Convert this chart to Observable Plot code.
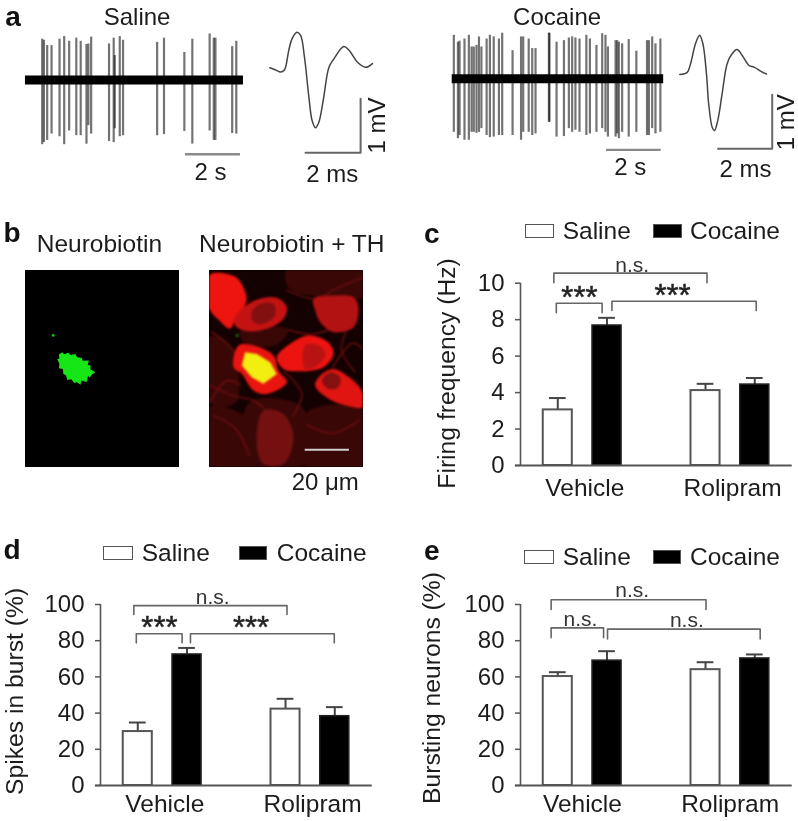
<!DOCTYPE html>
<html>
<head>
<meta charset="utf-8">
<script src="https://cdn.jsdelivr.net/npm/d3@7"></script>
<script src="https://cdn.jsdelivr.net/npm/@observablehq/plot@0.6"></script>
<style>
  html, body { margin: 0; padding: 0; background: #fff; }
  #page { position: relative; width: 798px; height: 821px; overflow: hidden; filter: blur(0.6px);
          font-family: "Liberation Sans", Arial, sans-serif; color: #1c1c1c; }
  .panel { position: absolute; }
  .panel svg { display: block; background: transparent; max-width: none; }
  .letter { position: absolute; font-weight: bold; font-size: 28px; line-height: 0.8; color: #111; transform: translate(-50%, -50%); }
  .lab { position: absolute; font-size: 24.5px; line-height: 1; transform: translateY(-50%); white-space: nowrap; }
  .sw { position: absolute; height: 12px; box-sizing: content-box; border: 1.5px solid #555; transform: translateY(-50%); }
</style>
</head>
<body>
<div id="page"></div>
<script>
// ---------- Panel a: spike traces (time in s, amplitude in mV)
const salineTimes = [0.61,0.67,0.79,0.95,1.24,1.41,1.59,1.85,2.01,2.22,2.29,2.39,3.04,3.21,3.25,3.43,3.55,4.79,5.04,5.78,6.07,6.70,6.85,6.91,7.52,7.67];
const salineTops = [0.77,0.75,0.65,0.65,0.77,0.82,0.73,0.79,0.73,0.67,0.68,0.81,0.68,0.79,0.46,0.82,0.75,0.71,0.79,0.52,0.77,0.87,0.79,0.79,0.63,0.73];
const salineBottoms = [-1.22,-1.18,-1.14,-1.02,-1.07,-1.22,-0.96,-1.05,-1.05,-1.21,-0.86,-1.02,-1.16,-1.18,-0.92,-1.07,-1.05,-1.05,-1.03,-0.97,-1.21,-0.96,-1.14,-1.14,-1.01,-1.02];
const cocaineTimes = [0.06,0.21,0.27,0.45,0.61,0.71,0.79,0.89,0.98,1.07,1.26,1.38,1.52,1.71,1.83,2.21,2.52,2.60,2.80,2.93,3.05,3.54,3.56,3.82,4.09,4.27,4.39,4.51,4.66,4.91,5.04,5.28,5.49,5.61,5.70,5.98,6.04,6.10,6.22,6.46,6.74,7.13,7.20,7.32,7.44,7.62];
const cocaineTops = [0.82,0.69,0.71,0.75,0.82,0.60,0.60,0.63,0.79,0.60,0.75,0.82,0.79,0.75,0.86,0.53,0.79,0.79,0.75,0.57,0.57,0.86,0.86,0.69,0.72,0.77,0.79,0.77,0.75,0.82,0.75,0.63,0.85,0.82,0.60,0.72,0.72,0.69,0.66,0.74,0.52,0.72,0.72,0.79,0.66,0.75];
const cocaineBottoms = [-1.01,-1.13,-1.07,-1.16,-1.16,-1.01,-1.01,-1.03,-1.01,-0.94,-1.07,-1.11,-1.10,-1.07,-1.07,-1.07,-1.16,-1.01,-1.01,-1.07,-1.04,-0.82,-0.82,-1.10,-1.09,-0.94,-1.01,-0.97,-1.01,-1.07,-1.04,-1.01,-0.94,-1.01,-1.10,-1.10,-1.04,-1.13,-1.01,-1.10,-1.01,-1.07,-1.07,-0.94,-1.04,-1.01];
// Spike waveforms (ms, mV)
const salineWaveMs = [0,0.21,0.39,0.53,0.69,0.81,0.99,1.12,1.26,1.42,1.54,1.66,1.78,1.94,2.15,2.33,2.69,2.88,3.18,3.48,3.73];
const salineWaveMv = [0,-0.04,-0.08,-0.04,0.33,0.55,0.67,0.61,0.20,-0.55,-1.0,-1.13,-1.03,-0.62,0.01,0.17,0.40,0.33,0.11,0.01,0.08];
const cocaineWaveMs = [0,0.27,0.39,0.57,0.72,0.84,0.97,1.05,1.18,1.26,1.38,1.54,1.72,1.90,2.08,2.27,2.52,2.70,2.95,3.15];
const cocaineWaveMv = [0,0.04,0.20,0.58,0.74,0.58,0.01,-0.55,-1.0,-1.06,-0.87,-0.36,0.20,0.39,0.47,0.36,0.17,0.14,0.06,0.01];

// ---------- Panel b: outlines of what the two confocal images show (positions in µm)
const greenBlob = [[14.4,40.3],[15.4,40],[15.2,38.2],[16.7,37.1],[17.6,38],[19.5,37.4],[20.4,38.4],[22.7,37.9],[23.4,39.4],[25.4,39.6],[26,41],[28.8,40.9],[28.3,42.8],[29.6,43.2],[29.5,45],[31.8,46.2],[30.2,47.2],[29.2,48.6],[28.4,47.9],[27.8,50.6],[25.4,50],[25,51.9],[23.2,50.7],[22.3,51.2],[20.8,49.4],[19,49.8],[18.4,47.6],[17.2,47],[17,44.8],[15.2,44.4],[15.4,42.2]];
const greenSpeck = [[12.6,29.5]];
const cellA = [[0,2],[10.9,2.4],[14.7,6.2],[16.9,12.9],[15.4,17],[12,21.4],[9.4,26.4],[4.8,23],[0,17.4]];
const cellB = [[10.9,22.7],[14.7,17.4],[21.5,13.3],[30.6,12.4],[35.2,16.7],[33.6,22],[26.1,26.5],[17.7,27.6],[12.4,25.8]];
const cellC = [[47.3,12.9],[56.4,11.4],[65.5,12.1],[67.7,16.7],[65.5,25.8],[56.4,28],[50.3,23.5],[48,18]];
const cellD = [[30.6,39.4],[36.7,33.3],[45,29.5],[54,32.6],[56.4,37.9],[51.8,43.9],[41.2,45.8],[33.6,44.7]];
const cellE = [[48,52.3],[51.1,47],[56.4,44.7],[62.4,47.7],[69.2,54.5],[70,62.1],[62.4,61.4],[54.1,58.3]];
const cellF = [[13.2,34.1],[20,34.1],[29.1,38.6],[31.4,45.5],[35.2,50.8],[26.1,56.1],[20,54.5],[14.7,47],[10.9,44]];
const cellG = [[24.5,63.6],[33.6,65.2],[38.2,75.8],[33.6,87.9],[24.5,87.9],[21.5,78.8]];
const nucleusB = [[19.2,18.9],[23,15.2],[29.1,15.2],[29.8,20.5],[24.5,24.2],[20,23.5]];
const nucleusD = [[43.5,34],[49.5,34],[52.6,37.9],[49.5,42.7],[43.5,44.7]];
const nucleusE = [[51.1,50],[54.8,46.2],[59.4,48.5],[58.6,53],[54.1,53.8]];
const yellowFill = [[16.2,37.1],[21.5,37.9],[27.6,41.7],[30.6,47],[24.5,51.5],[19.2,48.5],[14.7,43.2]];
const haze = [
  [[35,0],[70,0],[70,12],[50,12],[36,8]],
  [[18,60],[42,62],[46,85],[40,89.5],[18,89.5]],
  [[0,30],[10,35],[12,60],[0,60]],
  [[0,62],[18,68],[20,89.5],[0,89.5]],
  [[45,64],[70,64],[70,89.5],[44,89.5]],
  [[14,27],[36,27],[30,34],[16,33]]
];
const processes = [
  [[1,28],[8,33],[12,38]],
  [[0,52],[11,57],[20,59],[25,63]],
  [[56,44],[65,33],[70,36]],
  [[35,9],[49,13],[56,9],[70,3]],
  [[34,46],[42,56],[38,66]],
  [[2,66],[12,72],[18,84]],
  [[44,70],[56,74],[68,68]],
  [[0,60],[8,50],[14,52]],
  [[36,27],[46,29],[54,27]],
  [[62,28],[60,36],[66,46]]
];

// ---------- Panels c, d, e: bars
const groups = ["Vehicle", "Rolipram"];
const slots = [0, 1, 3, 4];
const treatments = ["Saline", "Cocaine", "Saline", "Cocaine"];
const firingValues = [3.05, 7.68, 4.11, 4.44];
const firingCaps = [3.7, 8.1, 4.48, 4.8];
const firingTicks = [0, 2, 4, 6, 8, 10];
const burstValues = [29.8, 72.4, 42.2, 38.3];
const burstCaps = [34.8, 76, 47.9, 43.3];
const neuronValues = [60.2, 69, 64, 70.2];
const neuronCaps = [62.6, 74.2, 68.1, 72.4];
const percentTicks = [0, 20, 40, 60, 80, 100];
const firingBrackets = [
  {from:-0.08, to:3.03, top:10.55, drop:10.02, mark:"n.s.", at:1.51, level:10.97},
  {from:-0.03, to:0.9, top:8.9, drop:8.38, mark:"***", at:0.44, level:9.41},
  {from:1.10, to:4.03, top:9.01, drop:8.5, mark:"***", at:2.33, level:9.54}
];
const burstBrackets = [
  {from:-0.08, to:3.03, top:99.4, drop:94.5, mark:"n.s.", at:1.52, level:104},
  {from:-0.03, to:0.9, top:83.8, drop:78.8, mark:"***", at:0.44, level:89},
  {from:1.07, to:3.99, top:83.8, drop:78.8, mark:"***", at:2.30, level:89}
];
const neuronBrackets = [
  {from:-0.135, to:3.01, top:102.6, drop:97.2, mark:"n.s.", at:1.51, level:108.1},
  {from:-0.135, to:0.93, top:87.1, drop:81.6, mark:"n.s.", at:0.46, level:92},
  {from:1.01, to:4.11, top:86.4, drop:81, mark:"n.s.", at:2.62, level:91.2}
];

// ---------- helpers
const page = document.getElementById("page");
const FONT = '"Liberation Sans", Arial, sans-serif';
const INK = "#1c1c1c", AXIS = "#555";

function place(node, left, top) {
  const d = document.createElement("div");
  d.className = "panel";
  d.style.left = left + "px"; d.style.top = top + "px";
  d.appendChild(node);
  page.appendChild(d);
  return d;
}
function base(o) {
  return Object.assign({marginLeft:0, marginRight:0, marginTop:0, marginBottom:0,
    style:{background:"transparent", fontFamily:FONT, overflow:"visible"}}, o);
}
function label(text, x, y, extra) {
  return Plot.text([text], Object.assign({x:()=>x, y:()=>y, text:d=>d, fontSize:24, fill:INK, fontFamily:FONT}, extra));
}

function tracePlot(left, width, times, tops, bottoms, xDomain, yDomain, end, title, bar, barY, barText, opacity) {
  const spikes = times.map((t,i)=>({t, top:tops[i], bottom:bottoms[i]}));
  place(Plot.plot(base({
    width, height:185,
    x:{domain:xDomain, range:[0,width], axis:null},
    y:{domain:yDomain, range:[0,185], axis:null},
    marks:[
      Plot.ruleX(spikes,{x:"t", y1:"bottom", y2:"top", stroke:"#000", strokeWidth:2.2, strokeOpacity:opacity}),
      Plot.ruleY([0],{x1:()=>0, x2:()=>end, stroke:"#000", strokeWidth:9}),
      Plot.ruleY([barY],{x1:()=>bar[0], x2:()=>bar[1], stroke:"#8a8a8a", strokeWidth:2.4}),
      label("2 s", barText[0], barText[1]),
      label(title[0], title[1], title[2])
    ]
  })), left, 0);
}
function wavePlot(left, width, ms, mv, xDomain, yDomain, sx, sy, tMs, tMv) {
  const wave = ms.map((m,i)=>[m, mv[i]]);
  place(Plot.plot(base({
    width, height:185,
    x:{domain:xDomain, range:[0,width], axis:null},
    y:{domain:yDomain, range:[0,185], axis:null},
    marks:[
      Plot.line(wave,{stroke:"#444", strokeWidth:1.5, curve:"catmull-rom"}),
      Plot.line([[sx[0],sy[0]],[sx[1],sy[0]],[sx[1],sy[1]]],{stroke:"#666", strokeWidth:2}),
      label("2 ms", tMs[0], tMs[1]),
      label("1 mV", tMv[0], tMv[1], {rotate:-90})
    ]
  })), left, 0);
}
function imagePanel(left, blur, shapes) {
  const holder = document.createElement("div");
  holder.style.cssText = "width:154px;height:197px;overflow:hidden;background:#000";
  holder.appendChild(Plot.plot(base({
    width:154, height:197,
    x:{domain:[0,70], range:[0,154], axis:null},
    y:{domain:[0,89.5], range:[0,197], axis:null},
    style:{background:"transparent", filter:`blur(${blur}px)`, display:"block"},
    marks:shapes
  })));
  place(holder, left, 270);
}
function overlayPanel(left, heading, hx, extra) {
  place(Plot.plot(base({
    width:154, height:245,
    x:{domain:[0,70], range:[0,154], axis:null},
    y:{domain:[-20.45,90.9], range:[0,245], axis:null},
    marks:[label(heading, hx, -12.1, {fontSize:24.5}), ...extra]
  })), left, 225);
}
function fillShape(pts, color) {
  return Plot.line(pts,{fill:color, stroke:"none", curve:"catmull-rom-closed"});
}
function barPanel({left, top, height, marginTop, marginBottom, domain, ticks, yLabel, labelAt, labelDist, values, caps, brackets, groupTicks, groupPad}) {
  const bars = slots.map((s,i)=>({slot:s, treatment:treatments[i], value:values[i], cap:caps[i]}));
  const white = bars.filter(d=>d.treatment==="Saline"), black = bars.filter(d=>d.treatment==="Cocaine");
  const brLines = brackets.flatMap((b,k)=>[[b.from,b.drop,k],[b.from,b.top,k],[b.to,b.top,k],[b.to,b.drop,k]]);
  const half = 0.295;
  place(Plot.plot(base({
    width:378, height, marginLeft:100, marginRight:6.3, marginTop, marginBottom,
    x:{domain:[-0.757,4.76], axis:null},
    y:{domain, axis:null},
    marks:[
      Plot.ruleX(bars,{x:"slot", y1:"value", y2:"cap", stroke:"#444", strokeWidth:2}),
      Plot.ruleY(bars,{y:"cap", x1:d=>d.slot-0.17, x2:d=>d.slot+0.17, stroke:"#444", strokeWidth:2}),
      Plot.rectY(white,{x1:d=>d.slot-half, x2:d=>d.slot+half, y1:()=>0, y2:"value", fill:"#fff", stroke:"#555", strokeWidth:2}),
      Plot.rectY(black,{x1:d=>d.slot-half, x2:d=>d.slot+half, y1:()=>0, y2:"value", fill:"#000", stroke:"#222", strokeWidth:1.5}),
      Plot.axisY({ticks, tickFormat:d=>String(d), anchor:"left", label:null, tickSize:5, tickPadding:11, fontSize:24, stroke:AXIS, fill:INK, strokeWidth:1.5}),
      Plot.text([yLabel],{x:()=>-0.757, y:()=>labelAt, text:d=>d, rotate:-90, dx:-labelDist, fontSize:24.7, fill:INK, fontFamily:FONT}),
      Plot.ruleX([-0.757],{y1:()=>domain[0], y2:()=>domain[1], stroke:AXIS, strokeWidth:1.6}),
      Plot.ruleY([domain[0]],{x1:()=>-0.86, x2:()=>4.76, stroke:AXIS, strokeWidth:2}),
      Plot.axisX({ticks:groupTicks, tickFormat:d=>groups[groupTicks.indexOf(d)], anchor:"bottom", label:null, tickSize:0, tickPadding:groupPad, fontSize:24.5, fill:INK}),
      Plot.line(brLines,{x:d=>d[0], y:d=>d[1], z:d=>d[2], stroke:"#666", strokeWidth:1.6}),
      Plot.text(brackets.filter(b=>b.mark==="n.s."),{x:"at", y:"level", text:"mark", fontSize:21, fill:"#333", fontFamily:FONT}),
      Plot.text(brackets.filter(b=>b.mark==="***"),{x:"at", y:"level", text:"mark", fontSize:31, dy:4, fill:"#222", stroke:"#222", strokeWidth:0.5, fontFamily:FONT})
    ]
  })), left, top);
}
function legend(cy, sw1, t1, sw2, t2) {
  [["Saline",sw1,t1,"#fff"],["Cocaine",sw2,t2,"#000"]].forEach(([name,sw,tx,bg])=>{
    const s = document.createElement("div");
    s.className = "sw";
    s.style.cssText = `left:${sw[0]}px;top:${cy}px;width:${sw[1]-sw[0]-3}px;background:${bg};`;
    page.appendChild(s);
    const t = document.createElement("div");
    t.className = "lab";
    t.style.left = tx + "px"; t.style.top = cy + "px";
    t.textContent = name;
    page.appendChild(t);
  });
}
function letter(ch, x, y) {
  const d = document.createElement("div");
  d.className = "letter"; d.textContent = ch;
  d.style.left = x + "px"; d.style.top = y + "px";
  page.appendChild(d);
}

// ---------- Panel a
tracePlot(20, 240, salineTimes, salineTops, salineBottoms, [-0.18,8.55], [1.5,-1.99], 7.93,
  ["Saline",4.06,1.175], [5.82,7.82], -1.40, [6.73,-1.74], 0.55);
tracePlot(445, 225, cocaineTimes, cocaineTops, cocaineBottoms, [-0.245,7.99], [1.477,-2.013], 7.74,
  ["Cocaine",3.84,1.157], [5.65,7.65], -1.34, [6.52,-1.67], 0.55);
wavePlot(265, 135, salineWaveMs, salineWaveMv, [-0.156,4.75], [1.27,-2.22], [1.30,3.30], [-1.60,-0.585], [2.27,-2.0], [3.90,-1.09]);
wavePlot(675, 123, cocaineWaveMs, cocaineWaveMv, [-0.156,4.316], [1.396,-2.094], [1.39,3.36], [-1.40,-0.38], [2.39,-1.79], [3.88,-0.90]);

// ---------- Panel b
imagePanel(25, 0.5, [
  Plot.dot(greenSpeck,{r:1.4, fill:"#14c814"}),
  Plot.line(greenBlob,{fill:"#16e616", stroke:"none"})
]);
imagePanel(209.3, 1.3, [
  Plot.rect([0],{x1:()=>0, x2:()=>70, y1:()=>0, y2:()=>89.5, fill:"#140101"}),
  ...haze.map(h=>fillShape(h,"#3a0707")),
  ...processes.map(p=>Plot.line(p,{stroke:"#7a1010", strokeWidth:1.2, curve:"catmull-rom"})),
  fillShape(cellG,"#741010"),
  fillShape(cellC,"#b21212"),
  fillShape(cellA,"#ee1410"),
  fillShape(cellB,"#c41212"),
  fillShape(nucleusB,"#821010"),
  fillShape(cellD,"#ec1410"),
  fillShape(nucleusD,"#b81212"),
  fillShape(cellE,"#e01410"),
  fillShape(nucleusE,"#861010"),
  fillShape(cellF,"#ea1410"),
  Plot.line(yellowFill,{fill:"#f2ee10", stroke:"none"}),
  Plot.dot(greenSpeck,{r:1.2, fill:"#20b020"})
]);
overlayPanel(25, "Neurobiotin", 33.6, []);
overlayPanel(209.3, "Neurobiotin + TH", 37.4, [
  Plot.ruleY([81.5],{x1:()=>43.5, x2:()=>63.6, stroke:"#cfcfcf", strokeWidth:2}),
  label("20 μm", 52.6, 96.2)
]);

// ---------- Panels c, d, e
barPanel({left:420, top:210, height:300, marginTop:72.7, marginBottom:45, domain:[0,10], ticks:firingTicks,
  yLabel:"Firing frequency (Hz)", labelAt:5.05, labelDist:73.3, values:firingValues, caps:firingCaps, brackets:firingBrackets, groupTicks:[0.55,3.55], groupPad:13});
barPanel({left:0, top:530, height:291, marginTop:74, marginBottom:36, domain:[0,100], ticks:percentTicks,
  yLabel:"Spikes in burst (%)", labelAt:52, labelDist:85, values:burstValues, caps:burstCaps, brackets:burstBrackets, groupTicks:[0.55,3.55], groupPad:9});
barPanel({left:420, top:530, height:291, marginTop:74, marginBottom:36, domain:[0,100], ticks:percentTicks,
  yLabel:"Bursting neurons (%)", labelAt:53.9, labelDist:88.3, values:neuronValues, caps:neuronCaps, brackets:neuronBrackets, groupTicks:[0.5,3.5], groupPad:9});

legend(230.7, [525,555], 562.7, [653.3,682.7], 690);
legend(553.3, [103,134], 141.7, [239.3,268.3], 276.7);
legend(557.3, [524,555], 562.7, [652.7,681.7], 690);

letter("a", 13, 17);
letter("b", 12, 233);
letter("c", 431.7, 234);
letter("d", 12, 550);
letter("e", 431.7, 551);
</script>
</body>
</html>
